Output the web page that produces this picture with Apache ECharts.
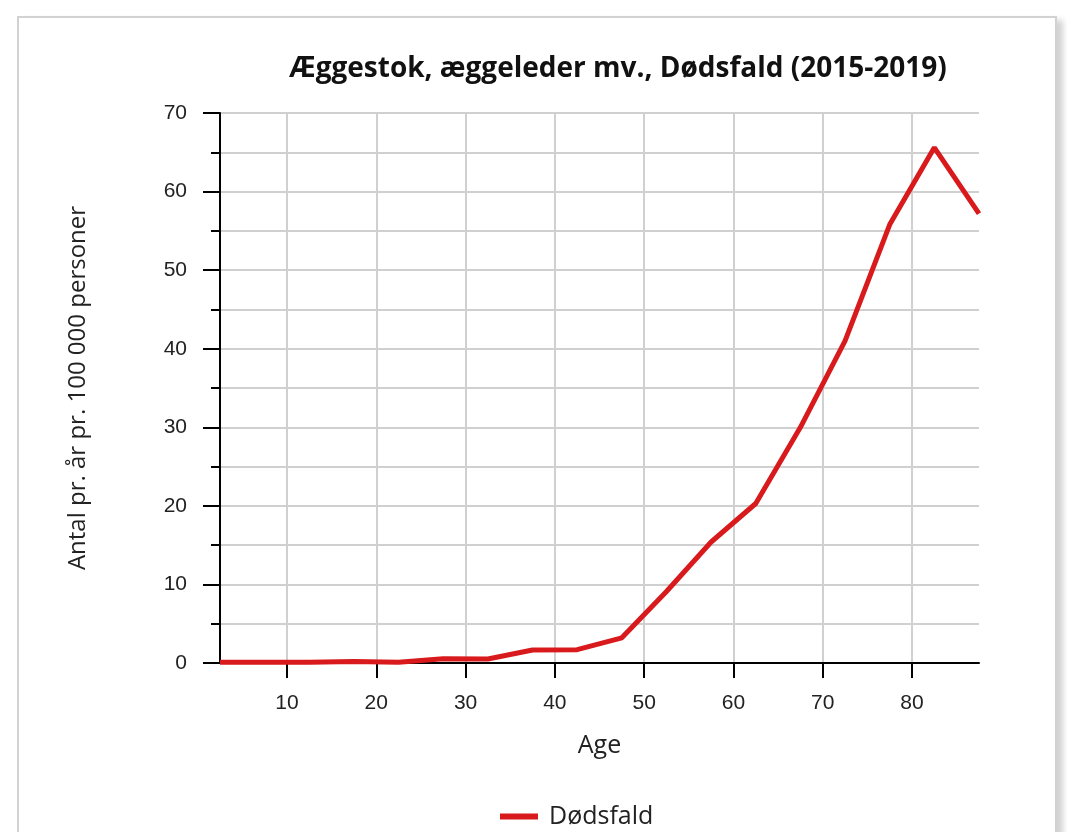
<!DOCTYPE html>
<html>
<head>
<meta charset="utf-8">
<script src="https://cdn.jsdelivr.net/npm/echarts@6/dist/echarts.min.js"></script>
<style>
  html, body { margin: 0; padding: 0; background: #fff; overflow: hidden; }
  #card {
    position: absolute; left: 17px; top: 16px; width: 1036px; height: 900px;
    border: 2px solid #d2d2d2; box-shadow: 6px 4px 6px rgba(0,0,0,0.18); background: #fff;
  }
  #main { position: absolute; left: 0; top: 0; width: 1067px; height: 832px; }
</style>
</head>
<body>
<div id="card"></div>
<div id="main"></div>
<script>
// aldersgrupper (midtpunkt) og dødsfald pr. 100 000
var ages = [2.5, 7.5, 12.5, 17.5, 22.5, 27.5, 32.5, 37.5, 42.5, 47.5, 52.5, 57.5, 62.5, 67.5, 72.5, 77.5, 82.5, 87.5];
var deaths = [0.1, 0.1, 0.1, 0.2, 0.1, 0.55, 0.5, 1.65, 1.7, 3.2, 9.1, 15.4, 20.3, 30.0, 41.0, 55.8, 65.6, 57.2];
var xTicks = [10, 20, 30, 40, 50, 60, 70, 80];
var yTicks = [0, 10, 20, 30, 40, 50, 60, 70];

var seriesData = [];
for (var i = 0; i < ages.length; i++) {
    seriesData.push([ages[i], deaths[i]]);
}

var myChart = echarts.init(document.getElementById('main'));
var labelFont = '"Liberation Sans", Arial, sans-serif';
var textFont = '"Open Sans", "Noto Sans", sans-serif';

var option = {
    animation: false,
    title: {
        text: 'Æggestok, æggeleder mv., Dødsfald (2015-2019)',
        left: 284,
        top: 50,
        textStyle: { fontFamily: textFont, fontWeight: 'bold', fontSize: 28, color: '#111' }
    },
    grid: { left: 220, right: 88, top: 113, bottom: 169, containLabel: false },
    legend: {
        data: ['Dødsfald'],
        left: 495,
        top: 799,
        icon: 'rect',
        itemWidth: 38,
        itemHeight: 6,
        itemGap: 13,
        textStyle: { fontFamily: textFont, fontSize: 25, color: '#222', padding: [0, 0, 0, 6] }
    },
    xAxis: {
        type: 'value',
        min: 2.5,
        max: 87.5,
        name: 'Age',
        nameLocation: 'middle',
        nameGap: 70,
        nameTextStyle: { fontFamily: textFont, fontSize: 25, color: '#222' },
        axisLine: { lineStyle: { color: '#000', width: 2 } },
        axisTick: { show: true, length: 15, customValues: xTicks, lineStyle: { color: '#000', width: 2 } },
        axisLabel: {
            fontFamily: labelFont, fontSize: 21, color: '#222', margin: 30,
            customValues: xTicks
        },
        splitLine: { show: true, lineStyle: { color: '#d0d0d0', width: 2 } }
    },
    yAxis: {
        type: 'value',
        min: 0,
        max: 70,
        interval: 10,
        name: 'Antal pr. år pr. 100 000 personer',
        nameLocation: 'middle',
        nameGap: 130,
        nameTextStyle: { fontFamily: textFont, fontSize: 24, color: '#222' },
        axisLine: { show: true, lineStyle: { color: '#000', width: 2 } },
        axisTick: { show: true, length: 17, lineStyle: { color: '#000', width: 2 } },
        minorTick: { show: true, splitNumber: 2, length: 9, lineStyle: { color: '#000', width: 2 } },
        axisLabel: {
            fontFamily: labelFont, fontSize: 21, color: '#222', margin: 33,
            formatter: function (v) { return yTicks.indexOf(v) >= 0 ? v : ''; }
        },
        splitLine: { show: true, lineStyle: { color: '#d0d0d0', width: 2 } },
        minorSplitLine: { show: true, lineStyle: { color: '#d0d0d0', width: 2 } }
    },
    series: [
        {
            name: 'Dødsfald',
            type: 'line',
            data: seriesData,
            showSymbol: false,
            symbol: 'none',
            lineStyle: { color: '#d81a1c', width: 5 },
            itemStyle: { color: '#d81a1c' }
        }
    ]
};

myChart.setOption(option);
</script>
</body>
</html>
